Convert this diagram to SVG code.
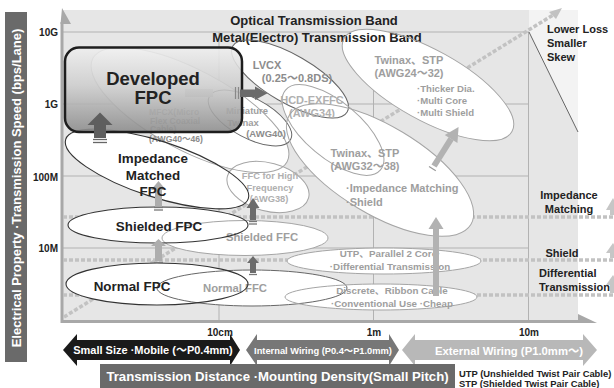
<svg xmlns="http://www.w3.org/2000/svg" xmlns:xlink="http://www.w3.org/1999/xlink" width="614" height="388" viewBox="0 0 614 388">
<defs>
<linearGradient id="devGrad" x1="0" y1="0" x2="0" y2="1">
<stop offset="0" stop-color="#efefef"/>
<stop offset="0.45" stop-color="#cdcdcd"/>
<stop offset="1" stop-color="#8a8a8a"/>
</linearGradient>
<style>
text{font-family:"Liberation Sans","Noto Sans CJK JP",sans-serif;font-weight:bold}
.grid{stroke:#b2b2b2;stroke-width:1;fill:none}
.dot{stroke:#c2c2c2;stroke-width:3.5;stroke-dasharray:4 2;fill:none}
.fill{fill:#fff;stroke:none}
.ol-dk{fill:none;stroke:#333;stroke-width:1.1}
.ol-md{fill:none;stroke:#666;stroke-width:1}
.ol-lt{fill:none;stroke:#a5a5a5;stroke-width:1}
.blk{fill:#222}
.g1{fill:#8c8c8c}
.g2{fill:#9e9e9e}
.g3{fill:#b0b0b0}
.wt{fill:#fff}
.ax{font-size:10px;fill:#222}
.lbl{font-size:11px;fill:#222}
.base{stroke:#777;stroke-width:1.3}
</style>
<ellipse id="e-mfcx" cx="190" cy="110" rx="110" ry="40" transform="rotate(28 190 110)"/>
<ellipse id="e-mini" cx="250" cy="118" rx="46" ry="20" transform="rotate(28 250 118)"/>
<ellipse id="e-lvcx" cx="290" cy="79" rx="66" ry="24" transform="rotate(30 290 79)"/>
<ellipse id="e-hcd" cx="333" cy="130" rx="62" ry="28" transform="rotate(40 333 130)"/>
<ellipse id="e-tw24" cx="428" cy="85" rx="96" ry="35" transform="rotate(29 428 85)"/>
<ellipse id="e-tw32" cx="380" cy="170" rx="106" ry="44" transform="rotate(31 380 170)"/>
<ellipse id="e-ffchf" cx="268" cy="187" rx="42" ry="24" transform="rotate(15 268 187)"/>
<ellipse id="e-imp" cx="157" cy="169" rx="96" ry="28" transform="rotate(18 157 169)"/>
<ellipse id="e-sfpc" cx="158" cy="225" rx="90" ry="18"/>
<ellipse id="e-sffc" cx="245" cy="238" rx="83" ry="17.5"/>
<ellipse id="e-nfpc" cx="157" cy="284" rx="91" ry="21"/>
<ellipse id="e-nffc" cx="252" cy="288" rx="95" ry="18"/>
<ellipse id="e-utp" cx="384" cy="261" rx="97" ry="13"/>
<ellipse id="e-disc" cx="381" cy="297" rx="96" ry="13"/>
</defs>

<!-- chart background -->
<g id="chart">
<rect x="62" y="10" width="516" height="312" fill="#e6e6e6"/>
<polygon points="529,10 578,10 578,132 529,32" fill="#f3f3f3"/>
<line class="grid" x1="62" y1="32" x2="529" y2="32"/>
<line class="grid" x1="62" y1="104" x2="529" y2="104"/>
<line class="grid" x1="62" y1="176" x2="529" y2="176"/>
<line class="grid" x1="62" y1="248" x2="529" y2="248"/>
<line class="grid" x1="219" y1="32" x2="219" y2="321"/>
<line class="grid" x1="373.5" y1="32" x2="373.5" y2="321"/>
<line class="grid" x1="528.5" y1="32" x2="528.5" y2="321"/>
<line x1="529" y1="32" x2="578" y2="132" stroke="#666" stroke-width="1"/>
<line x1="62" y1="22" x2="62" y2="323" stroke="#a8a8a8" stroke-width="3"/>
<polygon points="60.5,24 62,8 71,24" fill="#a8a8a8"/>
<line x1="61" y1="321.5" x2="580" y2="321.5" stroke="#a8a8a8" stroke-width="3"/>
<polygon points="578,314 597,323 578,323" fill="#a8a8a8"/>
<!-- dotted trend lines -->
<line class="dot" x1="64" y1="317" x2="553" y2="15"/>
<polygon points="549,12 562,8 556,19" fill="#c2c2c2"/>
<line class="dot" x1="63" y1="217" x2="614" y2="217"/>
<line class="dot" x1="63" y1="260" x2="614" y2="260"/>
<line class="dot" x1="63" y1="295" x2="614" y2="295"/>
<polygon points="613,198 620,210 606,210" fill="#c6c6c6"/>
<rect x="610" y="210" width="6" height="5" fill="#c6c6c6"/>
<polygon points="613,243 620,253 606,253" fill="#c6c6c6"/>
<rect x="610" y="253" width="6" height="5" fill="#c6c6c6"/>
<polygon points="613,275 620,285 606,285" fill="#c6c6c6"/>
<rect x="610" y="285" width="6" height="8" fill="#c6c6c6"/>
</g>

<!-- ellipse backdrops -->
<g id="ellipse-fills" class="fill">
<use xlink:href="#e-mfcx"/><use xlink:href="#e-mini"/><use xlink:href="#e-lvcx"/><use xlink:href="#e-hcd"/>
<use xlink:href="#e-tw24"/><use xlink:href="#e-tw32"/><use xlink:href="#e-ffchf"/><use xlink:href="#e-imp"/>
<use xlink:href="#e-sfpc"/><use xlink:href="#e-sffc"/><use xlink:href="#e-nfpc"/><use xlink:href="#e-nffc"/>
<use xlink:href="#e-utp"/><use xlink:href="#e-disc"/>
</g>

<!-- axis labels -->
<g id="axis-labels">
<text class="ax" x="58" y="36" text-anchor="end">10G</text>
<text class="ax" x="58" y="107.5" text-anchor="end">1G</text>
<text class="ax" x="58" y="180.5" text-anchor="end">100M</text>
<text class="ax" x="58" y="252" text-anchor="end">10M</text>
<text class="ax" x="220" y="336" text-anchor="middle">10cm</text>
<text class="ax" x="374" y="336" text-anchor="middle">1m</text>
<text class="ax" x="529" y="336" text-anchor="middle">10m</text>
<text x="314" y="24.5" font-size="13" fill="#222" text-anchor="middle">Optical Transmission Band</text>
<text x="317" y="41.5" font-size="13" fill="#222" text-anchor="middle">Metal(Electro) Transmission Band</text>
<text class="lbl" x="547" y="33">Lower Loss</text>
<text class="lbl" x="547" y="47">Smaller</text>
<text class="lbl" x="547" y="61">Skew</text>
<text class="lbl" x="569" y="199" text-anchor="middle">Impedance</text>
<text class="lbl" x="569" y="213" text-anchor="middle">Matching</text>
<text class="lbl" x="562" y="257" text-anchor="middle">Shield</text>
<text class="lbl" x="539" y="277">Differential</text>
<text class="lbl" x="539" y="291">Transmission</text>
</g>

<!-- nodes -->
<g id="mfcx">
<use xlink:href="#e-mfcx" class="ol-lt"/>
<text x="149" y="115" font-size="8.6" class="g3">MFCX(Micro</text>
<text x="150" y="123.5" font-size="8.6" class="g3">Flex Coaxial</text>
<text x="150" y="132" font-size="8.6" class="g3">Cable)</text>
<text x="149" y="142" font-size="8.6" class="g1">(AWG40～46)</text>
</g>
<g id="miniature-twinax">
<use xlink:href="#e-mini" class="ol-md"/>
<text x="247" y="114" font-size="9.5" class="g2" text-anchor="middle">Miniature</text>
<text x="243" y="126" font-size="9.5" class="g2" text-anchor="middle">Twinax</text>
<text x="266" y="137" font-size="9.5" class="g1" text-anchor="middle">(AWG40)</text>
</g>
<g id="lvcx">
<use xlink:href="#e-lvcx" class="ol-md"/>
<text x="267" y="69" font-size="11" class="g1" text-anchor="middle">LVCX</text>
<text x="297" y="82" font-size="11" class="g1" text-anchor="middle">(0.25～0.8DS)</text>
</g>
<g id="hcd-exffc">
<use xlink:href="#e-hcd" class="ol-lt"/>
<text x="312" y="104" font-size="11" class="g3" text-anchor="middle">HCD-EXFFC</text>
<text x="312" y="117" font-size="11" class="g3" text-anchor="middle">(AWG34)</text>
</g>
<g id="twinax-24-32">
<use xlink:href="#e-tw24" class="ol-lt"/>
<text x="409" y="64" font-size="11" class="g2" text-anchor="middle">Twinax、STP</text>
<text x="409" y="77" font-size="11" class="g2" text-anchor="middle">(AWG24～32)</text>
<text x="417" y="92" font-size="9.6" class="g2">·Thicker Dia.</text>
<text x="417" y="104" font-size="9.6" class="g2">·Multi Core</text>
<text x="417" y="116" font-size="9.6" class="g2">·Multi Shield</text>
</g>
<g id="twinax-32-38">
<use xlink:href="#e-tw32" class="ol-lt"/>
<text x="365" y="157" font-size="11" class="g2" text-anchor="middle">Twinax、STP</text>
<text x="365" y="170" font-size="11" class="g2" text-anchor="middle">(AWG32～38)</text>
<text x="346" y="192" font-size="11" class="g2">·Impedance Matching</text>
<text x="346" y="206" font-size="11" class="g2">·Shield</text>
</g>
<g id="ffc-high-frequency">
<use xlink:href="#e-ffchf" class="ol-lt"/>
<text x="270" y="179" font-size="9.3" class="g3" text-anchor="middle">FFC for High</text>
<text x="270" y="191" font-size="9.3" class="g3" text-anchor="middle">Frequency</text>
<text x="269" y="202" font-size="9.3" class="g3" text-anchor="middle">(AWG38)</text>
</g>
<g id="impedance-matched-fpc">
<use xlink:href="#e-imp" class="ol-dk"/>
</g>
<g id="shielded-ffc">
<use xlink:href="#e-sffc" class="ol-lt"/>
<text x="262" y="241" font-size="11.3" class="g2" text-anchor="middle">Shielded FFC</text>
</g>
<g id="shielded-fpc">
<use xlink:href="#e-sfpc" class="ol-dk"/>
</g>
<g id="normal-ffc">
<use xlink:href="#e-nffc" class="ol-md"/>
<text x="235" y="292" font-size="11.3" class="g2" text-anchor="middle">Normal FFC</text>
</g>
<g id="normal-fpc">
<use xlink:href="#e-nfpc" class="ol-dk"/>
</g>
<g id="utp">
<use xlink:href="#e-utp" class="ol-lt"/>
<text x="390" y="257" font-size="9.8" class="g2" text-anchor="middle">UTP、Parallel 2 Core·</text>
<text x="390" y="270" font-size="9.8" class="g2" text-anchor="middle">·Differential Transmission</text>
</g>
<g id="discrete">
<use xlink:href="#e-disc" class="ol-lt"/>
<text x="392" y="294" font-size="9.8" class="g2" text-anchor="middle">Discrete、Ribbon Cable</text>
<text x="392" y="307" font-size="9.8" class="g2" text-anchor="middle">·Conventional Use ·Cheap</text>
</g>

<!-- connectors -->
<g id="connectors">
<rect x="155" y="245" width="7" height="16" fill="#adadad"/>
<polygon points="151,246 158.5,239 166,246" fill="#adadad"/>
<line class="base" x1="154" y1="262.5" x2="163" y2="262.5"/>
<rect x="155" y="189" width="7" height="18" fill="#adadad"/>
<polygon points="151,190 158.5,181 166,190" fill="#adadad"/>
<line class="base" x1="154" y1="207.5" x2="163" y2="207.5"/>
<line class="base" x1="154" y1="210" x2="163" y2="210"/>
<rect x="250" y="262" width="6" height="11" fill="#6c6c6c"/>
<polygon points="247,263 253,256 259,263" fill="#6c6c6c"/>
<line class="base" x1="249" y1="274.5" x2="257" y2="274.5"/>
<rect x="250" y="207" width="6" height="13" fill="#6c6c6c"/>
<polygon points="246.5,208 253,198 259.5,208" fill="#6c6c6c"/>
<line class="base" x1="249" y1="221.5" x2="257" y2="221.5"/>
<line class="base" x1="249" y1="224" x2="257" y2="224"/>
<rect x="433" y="228" width="6" height="68" fill="#b2b2b2"/>
<polygon points="428.5,229 436,217 443.5,229" fill="#b2b2b2"/>
<g transform="translate(434,166) rotate(-57.7)">
<rect x="0" y="-3" width="32" height="6" fill="#b2b2b2"/>
<polygon points="32,-7.5 46,0 32,7.5" fill="#b2b2b2"/>
<line x1="-3" y1="-4" x2="-3" y2="4" stroke="#999" stroke-width="1.2"/>
</g>
<rect x="185" y="89" width="28" height="8" fill="#d2d2d2"/>
</g>

<!-- Developed FPC -->
<g id="developed-fpc">
<rect x="65" y="47.5" width="177" height="84.5" rx="14" ry="14" fill="url(#devGrad)" fill-opacity="0.88" stroke="#1e1e1e" stroke-width="2.5"/>
<text x="153" y="85" font-size="18.5" class="blk" text-anchor="middle">Developed</text>
<text x="153" y="104" font-size="18.5" class="blk" text-anchor="middle">FPC</text>
</g>

<g id="connectors-top">
<rect x="94" y="124" width="12" height="14" fill="#5e5e5e"/>
<polygon points="87.5,125 100,112.5 112.5,125" fill="#5e5e5e"/>
<line x1="93" y1="139.5" x2="107" y2="139.5" stroke="#666" stroke-width="1.3"/>
<line x1="93" y1="142.5" x2="107" y2="142.5" stroke="#666" stroke-width="1.3"/>
<line x1="235.5" y1="87" x2="235.5" y2="99" stroke="#888" stroke-width="1.2"/>
<line x1="238.5" y1="87" x2="238.5" y2="99" stroke="#888" stroke-width="1.2"/>
<rect x="240" y="89.5" width="16" height="7.5" fill="#6a6a6a"/>
<polygon points="255,86.5 267.5,93.2 255,100" fill="#6a6a6a"/>
</g>

<!-- dark node labels -->
<g id="fpc-labels">
<text x="153" y="163" font-size="13.4" class="blk" text-anchor="middle">Impedance</text>
<text x="153" y="180" font-size="13.4" class="blk" text-anchor="middle">Matched</text>
<text x="153" y="196" font-size="13.4" class="blk" text-anchor="middle">FPC</text>
<text x="159" y="231" font-size="13.4" class="blk" text-anchor="middle">Shielded FPC</text>
<text x="132" y="291" font-size="13.4" class="blk" text-anchor="middle">Normal FPC</text>
</g>

<!-- bottom range arrows -->
<g id="range-small">
<polygon points="63,350 77,334 77,340 230,340 230,334 240,350 230,366 230,360 77,360 77,366" fill="#1a1a1a"/>
<text x="153" y="354" font-size="11" class="wt" text-anchor="middle">Small Size ·Mobile (～P0.4mm)</text>
</g>
<g id="range-internal">
<polygon points="246,350 257,334 257,340 389,340 389,334 399,350 389,366 389,360 257,360 257,366" fill="#777"/>
<text x="323" y="353.5" font-size="9.3" class="wt" text-anchor="middle">Internal Wiring (P0.4～P1.0mm)</text>
</g>
<g id="range-external">
<polygon points="402,350 415,334 415,340 583,340 583,334 597,350 583,366 583,360 415,360 415,366" fill="#b8b8b8"/>
<text x="509" y="354.5" font-size="11.3" class="wt" text-anchor="middle">External Wiring (P1.0mm～)</text>
</g>

<!-- axis titles -->
<g id="y-title">
<rect x="5" y="12" width="22" height="350" fill="#6a6a6a"/>
<text transform="translate(21,188) rotate(-90)" font-size="13" class="wt" text-anchor="middle">Electrical Property ·Transmission Speed (bps/Lane)</text>
</g>
<g id="x-title">
<rect x="100" y="364" width="355" height="24" fill="#6a6a6a"/>
<text x="277.5" y="380.5" font-size="13.2" class="wt" text-anchor="middle">Transmission Distance ·Mounting Density(Small Pitch)</text>
</g>
<g id="notes">
<text x="459" y="376.5" font-size="9.4" class="blk">UTP (Unshielded Twist Pair Cable)</text>
<text x="459" y="386.5" font-size="9.4" class="blk">STP (Shielded Twist Pair Cable)</text>
</g>
</svg>
